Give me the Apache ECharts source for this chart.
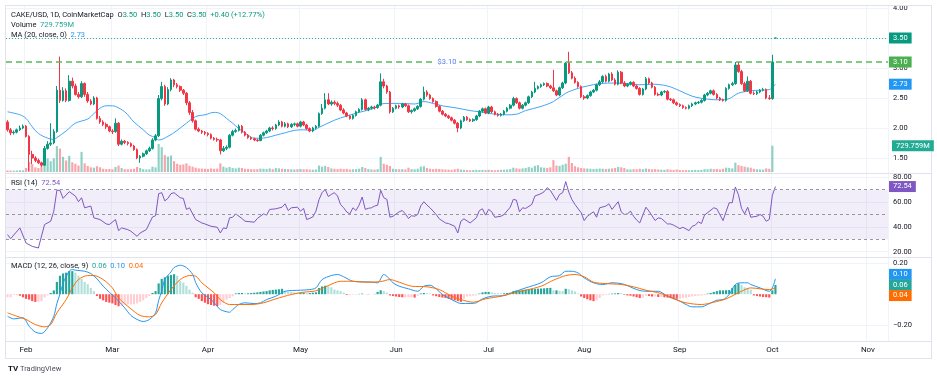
<!DOCTYPE html>
<html><head><meta charset="utf-8">
<script src="https://cdn.jsdelivr.net/npm/echarts@6/dist/echarts.min.js"></script>
<style>html,body{margin:0;padding:0;background:#fff}#c{width:937px;height:380px}</style>
</head><body><div id="c"></div>
<script>
// ---------- DATA ----------
const firstDay = [2025, 0, 26];   // first category (UTC)
const dayCount = 286;             // days shown on the time axis
const monthShort = {'01':'Jan','02':'Feb','03':'Mar','04':'Apr','05':'May','06':'Jun','07':'Jul','08':'Aug','09':'Sep','10':'Oct','11':'Nov','12':'Dec'};

// [open, high, low, close] per day from 2025-01-26
const ohlc = [
[2.10,2.13,1.94,1.97],[1.97,2.00,1.88,1.92],[1.92,1.96,1.89,1.93],[1.93,1.99,1.91,1.97],[1.97,2.04,1.95,2.00],
[2.00,2.06,1.98,2.03],[2.03,2.05,1.84,1.86],[1.86,1.88,1.28,1.56],[1.56,1.62,1.40,1.50],[1.50,1.53,1.43,1.46],
[1.46,1.49,1.40,1.42],[1.42,1.44,1.35,1.38],[1.38,1.70,1.37,1.66],[1.66,1.78,1.64,1.73],[1.73,2.08,1.70,1.75],
[1.75,1.98,1.73,1.94],[1.94,2.70,1.92,2.63],[2.63,3.19,2.42,2.46],[2.46,2.68,2.44,2.62],[2.62,2.66,2.43,2.46],
[2.46,2.88,2.44,2.78],[2.78,2.84,2.66,2.70],[2.70,2.74,2.54,2.56],[2.56,2.60,2.49,2.52],[2.52,2.78,2.50,2.74],
[2.74,2.76,2.52,2.56],[2.56,2.60,2.42,2.45],[2.45,2.48,2.38,2.40],[2.40,2.53,2.38,2.50],[2.50,2.52,2.14,2.16],
[2.16,2.20,2.07,2.10],[2.10,2.13,2.03,2.06],[2.06,2.09,1.98,2.02],[2.02,2.04,1.93,1.95],[1.95,1.98,1.90,1.94],
[1.94,2.16,1.92,2.08],[2.08,2.10,1.70,1.73],[1.73,1.81,1.71,1.78],[1.78,1.80,1.73,1.76],[1.76,1.78,1.71,1.74],
[1.74,1.76,1.68,1.70],[1.70,1.72,1.62,1.64],[1.64,1.66,1.48,1.50],[1.50,1.55,1.42,1.53],[1.53,1.59,1.51,1.57],
[1.57,1.64,1.55,1.62],[1.62,1.69,1.60,1.66],[1.66,1.83,1.64,1.80],[1.80,1.90,1.78,1.87],[1.87,2.55,1.85,2.49],
[2.49,2.77,2.46,2.69],[2.69,2.72,2.37,2.40],[2.40,2.68,2.38,2.64],[2.64,2.83,2.61,2.80],[2.80,2.82,2.68,2.72],
[2.72,2.75,2.66,2.69],[2.69,2.71,2.60,2.63],[2.63,2.65,2.55,2.58],[2.58,2.60,2.38,2.42],[2.42,2.45,2.22,2.26],
[2.26,2.30,2.09,2.12],[2.12,2.14,1.96,1.98],[1.98,2.01,1.93,1.95],[1.95,1.97,1.90,1.93],[1.93,1.95,1.88,1.91],
[1.91,1.93,1.86,1.89],[1.89,1.91,1.81,1.83],[1.83,1.85,1.79,1.81],[1.81,1.84,1.77,1.80],[1.80,1.82,1.56,1.62],
[1.62,1.70,1.60,1.66],[1.66,1.71,1.63,1.68],[1.68,1.90,1.66,1.88],[1.88,1.97,1.86,1.94],[1.94,1.99,1.92,1.96],
[1.96,2.06,1.94,2.03],[2.03,2.05,1.91,1.93],[1.93,1.95,1.86,1.88],[1.88,1.90,1.82,1.84],[1.84,1.86,1.80,1.82],
[1.82,1.84,1.78,1.80],[1.80,1.82,1.77,1.79],[1.79,1.90,1.78,1.88],[1.88,1.94,1.86,1.92],[1.92,1.97,1.90,1.95],
[1.95,2.02,1.93,2.00],[2.00,2.03,1.96,1.99],[1.99,2.07,1.97,2.05],[2.05,2.13,2.03,2.10],[2.10,2.12,2.01,2.03],
[2.03,2.10,2.01,2.07],[2.07,2.09,2.00,2.02],[2.02,2.08,2.00,2.06],[2.06,2.09,2.03,2.07],[2.07,2.09,2.01,2.03],
[2.03,2.12,2.01,2.10],[2.10,2.12,2.03,2.05],[2.05,2.07,1.97,1.99],[1.99,2.01,1.93,1.95],[1.95,2.02,1.93,2.00],
[2.00,2.05,1.98,2.03],[2.03,2.26,2.01,2.24],[2.24,2.40,2.22,2.33],[2.33,2.58,2.31,2.47],[2.47,2.58,2.38,2.40],
[2.40,2.46,2.37,2.43],[2.43,2.46,2.38,2.41],[2.41,2.44,2.35,2.38],[2.38,2.40,2.28,2.30],[2.30,2.33,2.23,2.25],
[2.25,2.27,2.18,2.20],[2.20,2.22,2.14,2.16],[2.16,2.23,2.14,2.21],[2.21,2.29,2.19,2.27],[2.27,2.33,2.25,2.31],
[2.31,2.50,2.29,2.47],[2.47,2.49,2.29,2.31],[2.31,2.35,2.28,2.33],[2.33,2.37,2.31,2.35],[2.35,2.37,2.31,2.34],
[2.34,2.40,2.32,2.38],[2.38,2.91,2.36,2.77],[2.77,2.82,2.66,2.70],[2.70,2.72,2.57,2.60],[2.60,2.62,2.24,2.27],
[2.27,2.35,2.25,2.33],[2.33,2.39,2.31,2.37],[2.37,2.39,2.32,2.35],[2.35,2.42,2.33,2.40],[2.40,2.42,2.35,2.37],
[2.37,2.39,2.25,2.27],[2.27,2.31,2.24,2.29],[2.29,2.34,2.27,2.32],[2.32,2.38,2.30,2.36],[2.36,2.50,2.34,2.48],
[2.48,2.69,2.46,2.60],[2.60,2.63,2.52,2.55],[2.55,2.57,2.47,2.49],[2.49,2.51,2.42,2.44],[2.44,2.46,2.34,2.36],
[2.36,2.38,2.26,2.28],[2.28,2.30,2.21,2.23],[2.23,2.25,2.18,2.20],[2.20,2.22,2.15,2.17],[2.17,2.19,2.11,2.13],
[2.13,2.15,2.06,2.08],[2.08,2.10,1.93,2.00],[2.00,2.14,1.98,2.12],[2.12,2.20,2.10,2.18],[2.18,2.20,2.12,2.14],
[2.14,2.16,2.10,2.12],[2.12,2.16,2.10,2.14],[2.14,2.22,2.12,2.20],[2.20,2.30,2.18,2.28],[2.28,2.34,2.26,2.32],
[2.32,2.34,2.23,2.25],[2.25,2.37,2.23,2.35],[2.35,2.37,2.25,2.27],[2.27,2.29,2.21,2.23],[2.23,2.25,2.19,2.21],
[2.21,2.25,2.19,2.23],[2.23,2.30,2.21,2.28],[2.28,2.35,2.26,2.33],[2.33,2.40,2.31,2.38],[2.38,2.52,2.36,2.49],
[2.49,2.51,2.40,2.42],[2.42,2.44,2.31,2.33],[2.33,2.40,2.31,2.38],[2.38,2.44,2.36,2.42],[2.42,2.54,2.40,2.52],
[2.52,2.62,2.50,2.60],[2.60,2.77,2.58,2.66],[2.66,2.71,2.64,2.69],[2.69,2.74,2.67,2.72],[2.72,2.76,2.70,2.74],
[2.74,2.76,2.68,2.70],[2.70,2.72,2.65,2.67],[2.67,2.97,2.60,2.62],[2.62,2.64,2.53,2.55],[2.55,2.69,2.53,2.67],
[2.67,2.77,2.65,2.75],[2.75,3.10,2.73,3.08],[3.08,3.27,2.90,2.92],[2.92,2.95,2.81,2.83],[2.83,2.86,2.74,2.76],
[2.76,2.78,2.67,2.69],[2.69,2.71,2.50,2.52],[2.52,2.55,2.47,2.50],[2.50,2.56,2.48,2.54],[2.54,2.62,2.52,2.60],
[2.60,2.65,2.58,2.63],[2.63,2.74,2.61,2.72],[2.72,2.80,2.70,2.77],[2.77,2.88,2.75,2.86],[2.86,2.89,2.76,2.78],
[2.78,2.92,2.76,2.90],[2.90,2.93,2.78,2.80],[2.80,2.83,2.71,2.73],[2.73,2.96,2.71,2.93],[2.93,2.95,2.73,2.75],
[2.75,2.78,2.68,2.70],[2.70,2.75,2.68,2.73],[2.73,2.78,2.71,2.76],[2.76,2.78,2.68,2.70],[2.70,2.72,2.64,2.66],
[2.66,2.68,2.54,2.56],[2.56,2.67,2.54,2.65],[2.65,2.85,2.63,2.82],[2.82,2.84,2.73,2.75],[2.75,2.77,2.66,2.68],
[2.68,2.70,2.54,2.56],[2.56,2.59,2.53,2.55],[2.55,2.62,2.53,2.60],[2.60,2.63,2.58,2.61],[2.61,2.63,2.46,2.48],
[2.48,2.50,2.45,2.47],[2.47,2.49,2.40,2.42],[2.42,2.44,2.37,2.39],[2.39,2.41,2.35,2.37],[2.37,2.39,2.32,2.34],
[2.34,2.36,2.31,2.33],[2.33,2.39,2.31,2.37],[2.37,2.42,2.35,2.40],[2.40,2.44,2.38,2.42],[2.42,2.45,2.40,2.43],
[2.43,2.48,2.41,2.46],[2.46,2.57,2.44,2.55],[2.55,2.60,2.53,2.58],[2.58,2.64,2.56,2.62],[2.62,2.64,2.54,2.56],
[2.56,2.58,2.48,2.50],[2.50,2.52,2.45,2.47],[2.47,2.49,2.44,2.46],[2.46,2.68,2.44,2.66],[2.66,2.74,2.64,2.72],
[2.72,2.77,2.70,2.74],[2.74,3.10,2.72,3.05],[3.05,3.10,2.92,2.94],[2.94,2.97,2.72,2.74],[2.74,2.77,2.60,2.62],
[2.62,2.86,2.60,2.78],[2.78,2.80,2.56,2.58],[2.58,2.61,2.55,2.57],[2.57,2.62,2.55,2.60],[2.60,2.65,2.58,2.63],
[2.63,2.67,2.61,2.64],[2.64,2.66,2.48,2.50],[2.50,2.55,2.47,2.49],[2.49,3.22,2.47,3.10],[3.50,3.50,3.50,3.50]
];

// volume in millions, per day
const volume = [
45,40,38,42,50,48,110,280,220,130,110,150,430,380,300,380,720,650,420,320,
450,270,230,180,560,240,170,130,120,160,130,90,80,85,75,140,180,110,80,75,
80,90,140,110,80,70,75,150,130,780,690,470,430,460,300,230,200,210,240,170,
150,120,100,95,90,85,100,90,95,240,150,120,140,110,100,120,110,90,85,80,
75,80,95,90,85,100,80,110,100,90,85,80,75,70,80,85,75,80,70,65,
70,180,150,170,140,100,90,80,90,80,85,70,75,80,90,140,110,80,70,65,
80,420,230,200,170,90,80,75,80,70,120,80,75,90,150,160,110,90,80,90,
85,75,70,65,60,75,90,70,60,55,50,55,60,55,60,55,60,55,50,55,
60,65,70,80,120,100,90,100,110,140,120,170,190,130,120,110,130,330,180,170,
200,230,420,250,160,130,110,100,95,90,85,90,95,90,85,90,100,110,140,130,
110,75,70,80,75,90,80,95,85,75,80,70,65,60,75,65,60,70,55,50,
55,50,55,60,55,60,80,75,90,80,85,70,90,120,110,100,260,190,170,150,
130,120,90,75,70,65,100,90,729.759,null
];

// MA(20): [day index, value]
const ma20 = [[0,2.27],[4,2.22],[6,2.16],[8,2.02],[10,1.91],[13,1.83],[15,1.81],[16,1.84],[19,1.95],[22,2.08],[26,2.15],[28,2.24],[30,2.33],[32,2.37],[34,2.37],[35,2.36],[38,2.27],[41,2.10],[44,1.97],[46,1.88],[48,1.84],[49,1.80],[52,1.86],[55,1.96],[58,2.08],[61,2.19],[64,2.22],[67,2.26],[69,2.24],[71,2.16],[73,2.08],[75,1.99],[78,1.88],[80,1.83],[82,1.83],[84,1.84],[87,1.88],[90,1.92],[93,1.96],[96,1.97],[99,1.96],[101,2.01],[106,2.13],[110,2.20],[114,2.26],[119,2.33],[121,2.40],[124,2.41],[127,2.41],[132,2.40],[135,2.44],[138,2.41],[141,2.37],[146,2.33],[150,2.29],[153,2.27],[158,2.23],[162,2.22],[165,2.23],[168,2.29],[173,2.36],[177,2.44],[181,2.58],[185,2.66],[188,2.70],[192,2.74],[197,2.75],[201,2.74],[205,2.72],[209,2.73],[214,2.70],[218,2.62],[222,2.53],[227,2.48],[231,2.47],[234,2.49],[237,2.58],[241,2.62],[244,2.63],[247,2.64],[249,2.73]];

// RSI(14): [day index, value]
const rsi = [[0,33.8],[1,30.5],[4,39.2],[6,27.0],[8,24.3],[10,23.0],[12,41.9],[14,44.6],[15,52.7],[16,69.5],[17,69.5],[18,63.0],[20,68.4],[22,64.9],[23,60.3],[24,63.5],[25,55.4],[27,56.8],[28,47.3],[30,45.9],[32,42.4],[33,41.9],[35,45.9],[36,37.0],[37,39.2],[39,37.8],[40,36.5],[42,32.4],[43,35.1],[45,37.8],[47,48.0],[48,49.0],[49,66.8],[50,67.6],[51,61.0],[52,63.0],[53,66.8],[54,67.6],[56,63.5],[57,63.0],[58,54.1],[59,55.4],[61,45.9],[63,43.2],[64,42.4],[66,40.5],[68,39.7],[69,35.1],[70,39.2],[71,38.6],[72,47.3],[73,47.8],[74,50.5],[76,46.8],[77,44.6],[80,43.8],[81,46.8],[83,50.5],[84,49.5],[85,54.1],[87,54.6],[89,55.9],[90,58.6],[91,53.2],[92,55.4],[94,55.9],[95,52.7],[96,54.9],[97,45.9],[99,48.0],[100,52.7],[101,62.0],[102,67.6],[103,70.3],[104,64.5],[105,66.2],[106,67.6],[107,64.9],[108,58.0],[109,55.4],[110,52.0],[111,50.5],[112,55.4],[113,53.2],[114,57.6],[115,64.1],[116,54.1],[117,55.0],[118,55.4],[119,56.8],[120,57.5],[121,69.5],[122,63.5],[123,62.2],[124,47.8],[125,48.6],[127,52.2],[128,53.2],[129,50.5],[130,46.8],[131,49.0],[132,48.6],[133,50.0],[134,57.0],[135,60.3],[136,57.6],[137,55.4],[139,50.0],[140,46.5],[142,43.2],[143,42.7],[145,40.5],[146,35.1],[147,44.6],[148,46.5],[150,43.2],[152,47.3],[153,53.2],[154,54.6],[155,49.5],[156,54.1],[157,52.2],[158,47.8],[160,48.6],[161,50.0],[163,55.9],[164,62.2],[165,61.6],[166,52.2],[167,55.4],[168,54.9],[170,58.1],[171,64.9],[173,66.8],[174,68.4],[175,71.6],[176,69.5],[178,61.4],[179,66.2],[180,67.6],[181,76.5],[182,68.0],[183,62.0],[184,58.1],[186,51.4],[187,45.1],[188,48.6],[190,52.2],[191,47.8],[192,55.4],[194,56.8],[195,58.6],[196,54.1],[198,60.3],[199,52.0],[200,50.0],[201,50.5],[202,52.7],[203,48.6],[204,45.5],[205,43.2],[206,49.5],[207,55.9],[208,52.7],[210,45.1],[211,47.3],[212,46.8],[214,42.4],[215,42.4],[216,41.4],[217,40.0],[218,38.6],[219,39.7],[221,37.0],[222,40.5],[223,41.4],[224,44.1],[225,42.7],[226,49.5],[229,55.4],[230,54.6],[232,45.1],[234,59.5],[235,59.5],[236,72.2],[237,66.0],[238,55.0],[239,50.5],[240,55.9],[241,47.8],[243,48.6],[244,50.0],[245,48.6],[246,44.6],[247,46.0],[248,65.5],[249,72.54]];

// MACD line (12,26): [day index, value]
const macdLine = [[0,-0.143],[2,-0.16],[5,-0.153],[7,-0.208],[9,-0.246],[11,-0.255],[13,-0.218],[15,-0.143],[16,-0.06],[17,0.0],[18,0.07],[20,0.15],[21,0.16],[22,0.156],[25,0.149],[27,0.134],[29,0.10],[31,0.052],[33,0.013],[35,-0.024],[36,-0.045],[38,-0.089],[40,-0.138],[42,-0.164],[44,-0.177],[46,-0.164],[48,-0.121],[49,-0.04],[50,0.02],[51,0.095],[53,0.145],[54,0.173],[56,0.188],[58,0.173],[60,0.13],[61,0.076],[63,0.009],[66,-0.035],[68,-0.078],[69,-0.10],[72,-0.117],[73,-0.10],[75,-0.067],[77,-0.056],[80,-0.061],[82,-0.056],[84,-0.035],[87,-0.013],[90,0.019],[95,0.026],[98,0.03],[100,0.041],[102,0.095],[105,0.121],[107,0.128],[109,0.113],[112,0.084],[115,0.08],[117,0.08],[120,0.074],[122,0.128],[123,0.117],[125,0.074],[127,0.052],[130,0.035],[133,0.019],[135,0.052],[137,0.058],[139,0.035],[141,-0.002],[143,-0.024],[145,-0.045],[147,-0.06],[150,-0.06],[152,-0.056],[154,-0.03],[157,-0.013],[161,-0.009],[164,0.013],[168,0.041],[173,0.074],[176,0.113],[179,0.121],[181,0.149],[183,0.149],[185,0.138],[187,0.106],[190,0.074],[193,0.063],[196,0.074],[199,0.069],[201,0.056],[204,0.03],[207,0.019],[211,0.019],[214,-0.013],[217,-0.035],[220,-0.067],[222,-0.082],[225,-0.082],[227,-0.067],[230,-0.039],[232,-0.035],[234,-0.002],[236,0.063],[238,0.074],[240,0.074],[241,0.063],[244,0.041],[247,0.019],[248,0.04],[249,0.10]];

// Signal line (9): [day index, value]
const signalLine = [[0,-0.121],[3,-0.143],[6,-0.164],[9,-0.197],[12,-0.212],[14,-0.197],[16,-0.121],[19,-0.035],[21,0.041],[23,0.095],[26,0.121],[28,0.121],[31,0.095],[34,0.041],[36,-0.024],[40,-0.095],[43,-0.138],[46,-0.147],[48,-0.132],[50,-0.056],[53,0.03],[56,0.095],[59,0.121],[61,0.117],[63,0.074],[67,0.009],[69,-0.035],[72,-0.067],[75,-0.067],[79,-0.067],[83,-0.056],[87,-0.03],[92,-0.002],[96,0.013],[100,0.022],[104,0.056],[108,0.084],[112,0.084],[116,0.078],[121,0.082],[124,0.095],[127,0.078],[131,0.052],[136,0.048],[140,0.03],[144,-0.013],[147,-0.035],[151,-0.052],[155,-0.03],[160,-0.013],[164,0.009],[168,0.026],[173,0.052],[177,0.091],[181,0.121],[184,0.128],[187,0.113],[190,0.078],[194,0.069],[199,0.063],[203,0.048],[207,0.026],[212,0.004],[216,-0.03],[220,-0.056],[225,-0.067],[229,-0.052],[233,-0.03],[238,0.019],[241,0.041],[244,0.035],[247,0.03],[249,0.04]];

// MACD histogram per day
const macdHist = [
-0.02,-0.02,-0.005,-0.005,-0.01,-0.02,-0.03,-0.035,-0.045,-0.05,-0.05,-0.045,-0.02,-0.008,0.008,0.025,0.08,0.12,0.135,0.14,
0.15,0.15,0.14,0.12,0.10,0.08,0.065,0.04,0.02,-0.012,-0.03,-0.04,-0.05,-0.055,-0.06,-0.07,-0.078,-0.075,-0.068,-0.067,
-0.067,-0.066,-0.06,-0.05,-0.04,-0.025,-0.012,0.008,0.02,0.07,0.1,0.11,0.12,0.125,0.13,0.12,0.085,0.075,0.055,0.03,
0.01,-0.02,-0.03,-0.045,-0.055,-0.065,-0.07,-0.075,-0.078,-0.07,-0.056,-0.035,-0.025,-0.013,0.005,0.008,0.008,0.006,0.006,0.008,
0.01,0.012,0.015,0.018,0.02,0.025,0.028,0.03,0.032,0.035,0.02,0.018,0.015,0.012,0.01,0.01,0.01,0.008,0.008,0.01,
0.012,0.04,0.05,0.055,0.052,0.045,0.03,0.025,0.02,0.01,-0.005,-0.005,-0.003,0.001,0.002,0.004,0.001,-0.002,0.0,0.002,
0.015,0.025,0.02,0.01,-0.008,-0.012,-0.015,-0.018,-0.02,-0.02,-0.02,-0.02,-0.022,-0.01,0.005,0.008,0.007,0.004,-0.008,-0.013,
-0.018,-0.022,-0.025,-0.03,-0.035,-0.04,-0.045,-0.05,-0.03,-0.015,-0.013,-0.01,-0.008,0.004,0.012,0.015,0.015,0.012,0.008,0.006,
0.005,0.006,0.008,0.01,0.02,0.024,0.025,0.028,0.03,0.032,0.034,0.035,0.036,0.037,0.038,0.04,0.041,0.025,0.025,0.022,
0.02,0.035,0.032,0.025,0.018,0.005,-0.015,-0.025,-0.033,-0.04,-0.045,-0.04,-0.025,-0.008,-0.005,0.002,0.004,0.005,0.008,0.006,
-0.004,-0.008,-0.01,-0.015,-0.02,-0.025,-0.022,-0.01,-0.012,-0.015,-0.015,-0.018,-0.018,-0.02,-0.022,-0.025,-0.028,-0.03,-0.03,-0.025,
-0.022,-0.018,-0.015,-0.012,-0.01,-0.008,-0.006,0.004,0.008,0.015,0.02,0.025,0.025,0.026,0.027,0.04,0.06,0.07,0.06,0.045,
0.04,0.03,-0.008,-0.012,-0.015,-0.018,-0.02,-0.022,0.025,0.06
];

const priceTicks = [1.5, 2.0, 2.5, 3.0, 3.5, 4.0];
const rsiTicks = [20, 40, 60, 80];
const macdTicks = [-0.2, 0.2];
const rsiBands = [70, 50, 30];
const keyLevel = 3.10;
const lastPrice = 3.50;
const maLast = 2.73;
const volLast = 729.759;
const rsiLast = 72.54;
const macdLast = 0.10, histLast = 0.06, signalLast = 0.04;

// ---------- CHART ----------
const categories = [];
{ const d = new Date(Date.UTC(firstDay[0], firstDay[1], firstDay[2]));
  for (let i = 0; i < dayCount; i++) { categories.push(d.toISOString().slice(0, 10)); d.setUTCDate(d.getUTCDate() + 1); } }

const FONT = 'Roboto, "Liberation Sans", Arial, sans-serif';
const UP = '#089981', DOWN = '#f23645';
const TXT = '#131722';
const GRIDC = '#f0f3fa';
const FS = 7.5;

const candleData = ohlc.map(d => [d[0], d[3], d[2], d[1]]);
const volData = volume.map((v, i) => v == null ? null : ({ value: v, itemStyle: { color: ohlc[i][3] >= ohlc[i][0] ? 'rgba(8,153,129,0.45)' : 'rgba(242,54,69,0.45)' } }));
const histData = macdHist.map((v, i) => {
  const p = i > 0 ? macdHist[i - 1] : v;
  const c = v >= 0 ? (v >= p ? '#26a69a' : '#b2dfdb') : (v < p ? '#ff5252' : '#ffcdd2');
  return { value: v, itemStyle: { color: c } };
});

const isMonthStart = (i, v) => typeof v === 'string' && v.slice(8, 10) === '01';
const L = 6, W = 882;
const grids = [
  { left: L, top: 6, width: W, height: 167 },
  { left: L, top: 100, width: W, height: 72 },
  { left: L, top: 173, width: W, height: 84 },
  { left: L, top: 257, width: W, height: 84 }
];
const mkX = (gi) => ({
  type: 'category', gridIndex: gi, data: categories, boundaryGap: true,
  axisLine: { show: false }, axisTick: { show: false },
  axisLabel: gi === 3 ? { show: true, interval: isMonthStart, formatter: v => monthShort[v.slice(5, 7)], color: TXT, fontSize: 8, fontFamily: FONT, margin: 5 } : { show: false },
  splitLine: { show: gi !== 1, interval: isMonthStart, lineStyle: { color: GRIDC, width: 1 } }
});
const mkY = (gi, min, max, ticks, fmt) => ({
  type: 'value', gridIndex: gi, position: 'right', min: min, max: max,
  axisLine: { show: false },
  axisTick: { show: false, customValues: ticks },
  axisLabel: { show: true, customValues: ticks, formatter: fmt, color: TXT, fontSize: FS, fontFamily: FONT, margin: 5 },
  splitLine: { show: true, lineStyle: { color: GRIDC, width: 1 } }
});

const chart = echarts.init(document.getElementById('c'));
chart.setOption({
  animation: false,
  backgroundColor: '#ffffff',
  textStyle: { fontFamily: FONT },
  grid: grids,
  xAxis: [mkX(0), mkX(1), mkX(2), mkX(3)],
  yAxis: [
    mkY(0, 1.25, 4.0333, priceTicks, v => v.toFixed(2)),
    { type: 'value', gridIndex: 1, min: 0, max: 2000, show: false, splitLine: { show: false } },
    mkY(2, 15.73, 83.47, rsiTicks, v => v.toFixed(2)),
    mkY(3, -0.3039, 0.2416, macdTicks, v => (v < 0 ? '\u2212' : '') + Math.abs(v).toFixed(2))
  ],
  series: [
    { type: 'bar', name: 'Volume', xAxisIndex: 1, yAxisIndex: 1, data: volData, barWidth: '70%', z: 1 },
    { type: 'candlestick', name: 'CAKE/USD', xAxisIndex: 0, yAxisIndex: 0, data: candleData, barWidth: '68%', z: 3,
      itemStyle: { color: UP, color0: DOWN, borderColor: UP, borderColor0: DOWN, borderWidth: 1 },
      markLine: { symbol: 'none', silent: true, animation: false, label: { show: false },
        data: [
          { yAxis: keyLevel, lineStyle: { color: '#5cb85c', type: [6, 4], width: 1.5 } },
          { yAxis: lastPrice, lineStyle: { color: UP, type: [1, 2], width: 1, opacity: 0.8 } }
        ] } },
    { type: 'line', name: 'MA', xAxisIndex: 0, yAxisIndex: 0, data: ma20, showSymbol: false, smooth: 0.35, lineStyle: { color: '#42a5f5', width: 1 }, z: 2 },
    { type: 'line', name: 'RSI', xAxisIndex: 2, yAxisIndex: 2, data: rsi, showSymbol: false, lineStyle: { color: '#7e57c2', width: 1 },
      markArea: { silent: true, itemStyle: { color: 'rgba(126,87,194,0.1)' }, data: [[{ yAxis: rsiBands[0] }, { yAxis: rsiBands[2] }]] },
      markLine: { symbol: 'none', silent: true, label: { show: false }, lineStyle: { color: '#9598a1', type: [3, 3], width: 1 },
        data: rsiBands.map(v => ({ yAxis: v })) } },
    { type: 'bar', name: 'Histogram', xAxisIndex: 3, yAxisIndex: 3, data: histData, barWidth: '70%' },
    { type: 'line', name: 'MACD', xAxisIndex: 3, yAxisIndex: 3, data: macdLine, showSymbol: false, smooth: 0.3, lineStyle: { color: '#2196f3', width: 1 } },
    { type: 'line', name: 'Signal', xAxisIndex: 3, yAxisIndex: 3, data: signalLine, showSymbol: false, smooth: 0.3, lineStyle: { color: '#ff6d00', width: 1 } }
  ]
});

// ---------- overlays: legends, value boxes, frame ----------
const yPix = (ai, v) => chart.convertToPixel({ yAxisIndex: ai }, v);
const font = (w) => (w || 'normal') + ' ' + FS + 'px ' + FONT;
const box = (y, text, bg, x) => ({ type: 'text', x: x || 889, y: y, z: 100,
  style: { text: text, fill: '#fff', font: font(), backgroundColor: bg, padding: [2, 4, 1, 4], verticalAlign: 'middle', align: 'left', lineHeight: 8 } });
const rich = { d: { fill: TXT, font: font() }, g: { fill: UP, font: font() }, b: { fill: '#2196f3', font: font() }, p: { fill: '#7e57c2', font: font() },
  t: { fill: '#26a69a', font: font() }, o: { fill: '#ff6d00', font: font() } };
const legend = (x, y, t) => ({ type: 'text', x: x, y: y, z: 100, style: { text: t, rich: rich, font: font(), verticalAlign: 'middle', fill: TXT } });

const yMid = yPix(3, histLast);
const gap = 10.6;
const sepLine = (y) => ({ type: 'line', z: 50, shape: { x1: 6, y1: y, x2: 931, y2: y }, style: { stroke: '#e0e3eb', lineWidth: 1 } });

chart.setOption({
  graphic: [
    { type: 'rect', z: 60, shape: { x: 5.5, y: 5.5, width: 926, height: 353 }, style: { fill: 'none', stroke: '#e0e3eb', lineWidth: 1 } },
    sepLine(173.5), sepLine(257.5), sepLine(341.5),
    legend(11, 15, '{d|CAKE/USD, 1D, CoinMarketCap}  {d|O}{g|3.50}  {d|H}{g|3.50}  {d|L}{g|3.50}  {d|C}{g|3.50}  {g|+0.40 (+12.77%)}'),
    legend(11, 25, '{d|Volume}  {t|729.759M}'),
    legend(11, 35, '{d|MA (20, close, 0)}  {b|2.73}'),
    legend(11, 183, '{d|RSI (14)}  {p|72.54}'),
    legend(11, 266.5, '{d|MACD (12, 26, close, 9)}  {t|0.06}  {b|0.10}  {o|0.04}'),
    { type: 'text', x: 447, y: yPix(0, keyLevel), z: 90, style: { text: '$3.10', fill: '#4f7ff0', font: font(), align: 'center', verticalAlign: 'middle', backgroundColor: '#fff', padding: [1, 3] } },
    box(yPix(0, lastPrice), '3.50', UP),
    box(yPix(0, keyLevel), '3.10', '#4caf50'),
    box(yPix(0, maLast), '2.73', '#2196f3'),
    box(yPix(1, volLast), '729.759M', '#22ab94', 892),
    box(yPix(2, rsiLast), '72.54', '#7e57c2'),
    box(yMid - gap, macdLast.toFixed(2), '#2196f3'),
    box(yMid, histLast.toFixed(2), '#26a69a'),
    box(yMid + gap, signalLast.toFixed(2), '#ff6d00'),
    { type: 'text', x: 8, y: 369, z: 100, style: { text: 'TV', fill: TXT, font: 'bold 8px ' + FONT, verticalAlign: 'middle' } },
    { type: 'text', x: 20, y: 369, z: 100, style: { text: 'TradingView', fill: '#4a4e59', font: font(), verticalAlign: 'middle' } }
  ]
});
</script>
</body></html>
